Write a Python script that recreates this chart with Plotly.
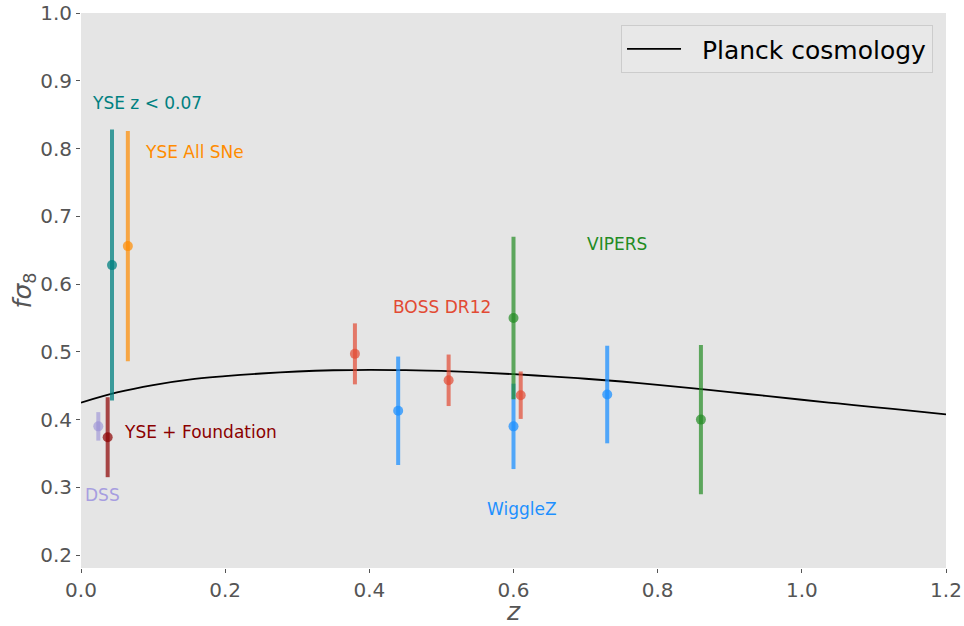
import plotly.graph_objects as go

# Growth-rate measurements f*sigma8(z): redshift, value, symmetric 1-sigma error
dss_z, dss_f, dss_e = [0.024], [0.390], [0.021]
yse_fnd_z, yse_fnd_f, yse_fnd_e = [0.037], [0.374], [0.059]
yse_low_z, yse_low_f, yse_low_e = [0.043], [0.628], [0.200]
yse_all_z, yse_all_f, yse_all_e = [0.065], [0.656], [0.170]
boss_z, boss_f, boss_e = [0.38, 0.51, 0.61], [0.497, 0.458, 0.436], [0.045, 0.038, 0.035]
wigglez_z, wigglez_f, wigglez_e = [0.44, 0.60, 0.73], [0.413, 0.390, 0.437], [0.080, 0.063, 0.072]
vipers_z, vipers_f, vipers_e = [0.60, 0.86], [0.550, 0.400], [0.120, 0.110]

# Planck prediction, sampled along redshift
planck_z = [0.0, 0.05, 0.10, 0.15, 0.20, 0.25, 0.30, 0.35, 0.40, 0.45, 0.50, 0.55, 0.60,
            0.65, 0.70, 0.75, 0.80, 0.85, 0.90, 0.95, 1.00, 1.05, 1.10, 1.15, 1.20]
planck_f = [0.425, 0.440, 0.451, 0.459, 0.464, 0.468, 0.471, 0.4728, 0.4735, 0.473, 0.4718,
            0.4698, 0.467, 0.4638, 0.4603, 0.4562, 0.4512, 0.4462, 0.4405, 0.435, 0.4293,
            0.4238, 0.4185, 0.4131, 0.4077]

datasets = [
    # name, z, value, error, rgba colour, label text, label colour, label z, label y
    ("DSS", dss_z, dss_f, dss_e, "rgba(152,142,213,0.6)", "DSS", "#a79ee0", 0.003, 0.289),
    ("YSE + Foundation", yse_fnd_z, yse_fnd_f, yse_fnd_e, "rgba(139,0,0,0.7)",
     "YSE + Foundation", "#8b0000", 0.057, 0.3815),
    ("YSE z < 0.07", yse_low_z, yse_low_f, yse_low_e, "rgba(0,128,128,0.75)",
     "YSE z < 0.07", "#008080", 0.0125, 0.867),
    ("YSE All SNe", yse_all_z, yse_all_f, yse_all_e, "rgba(255,140,0,0.7)",
     "YSE All SNe", "#ff8c00", 0.086, 0.795),
    ("BOSS DR12", boss_z, boss_f, boss_e, "rgba(226,74,51,0.7)",
     "BOSS DR12", "#e24a33", 0.430, 0.566),
    ("WiggleZ", wigglez_z, wigglez_f, wigglez_e, "rgba(30,144,255,0.75)",
     "WiggleZ", "#1e90ff", 0.5605, 0.268),
    ("VIPERS", vipers_z, vipers_f, vipers_e, "rgba(34,139,34,0.7)",
     "VIPERS", "#228b22", 0.699, 0.659),
]

fig = go.Figure()

fig.add_trace(go.Scatter(
    x=planck_z, y=planck_f, mode="lines", name="\u00a0\u00a0Planck cosmology",
    line=dict(color="black", width=1.8, shape="spline"),
))

annotations = []
for name, z, f, e, col, text, tcol, tx, ty in datasets:
    fig.add_trace(go.Scatter(
        x=z, y=f, mode="markers", name=name, showlegend=False,
        marker=dict(color=col, size=10, line=dict(width=0)),
        error_y=dict(type="data", array=e, visible=True, thickness=4, width=0, color=col),
    ))
    annotations.append(dict(
        x=tx, y=ty, xref="x", yref="y", text=text, showarrow=False,
        xanchor="left", yanchor="middle",
        font=dict(family="DejaVu Sans", size=17, color=tcol),
    ))

fig.update_layout(
    width=964, height=626,
    margin=dict(l=81, r=18, t=13, b=58, autoexpand=False),
    paper_bgcolor="white", plot_bgcolor="#e5e5e5",
    font=dict(family="DejaVu Sans", color="#555555"),
    annotations=annotations,
    legend=dict(
        x=0.985, y=0.978, xanchor="right", yanchor="top",
        bgcolor="#e8e8e8", bordercolor="#cccccc", borderwidth=1,
        itemwidth=54,
        font=dict(family="DejaVu Sans", size=25, color="black"),
    ),
    xaxis=dict(
        range=[0, 1.2], dtick=0.2, tickformat=".1f", showgrid=False, zeroline=False,
        automargin=False,
        ticks="outside", ticklen=4, tickcolor="#555555",
        tickfont=dict(size=20, color="#555555"),
        title=dict(text="<i>z</i>", font=dict(size=25, color="#555555"), standoff=0),
    ),
    yaxis=dict(
        range=[0.181, 1.0], tickvals=[0.2, 0.3, 0.4, 0.5, 0.6, 0.7, 0.8, 0.9, 1.0],
        tickformat=".1f", showgrid=False, zeroline=False,
        automargin=False,
        ticks="outside", ticklen=4, tickcolor="#555555",
        tickfont=dict(size=20, color="#555555"),
        title=dict(text="<i>fσ</i><sub>8</sub>", font=dict(size=25, color="#555555"), standoff=0),
    ),
)

fig.write_html("out.html")
